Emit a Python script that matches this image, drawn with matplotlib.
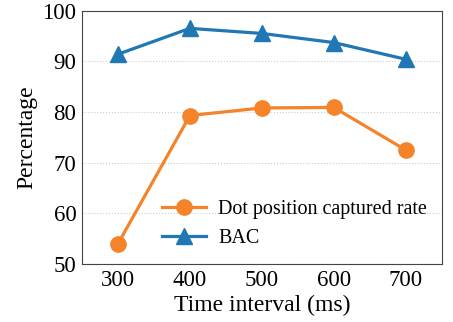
import matplotlib.pyplot as plt

plt.rcParams['font.family'] = ['Liberation Serif', 'DejaVu Serif']

intervals = [300, 400, 500, 600, 700]
dot_rate = [54.0, 79.3, 80.8, 80.9, 72.5]
bac = [91.4, 96.5, 95.5, 93.7, 90.4]

fig, ax = plt.subplots(figsize=(4.53, 3.22), dpi=100)
fig.subplots_adjust(left=0.181, right=0.975, top=0.967, bottom=0.18)

ax.plot(intervals, dot_rate, color='#f5832a', marker='o', markersize=11, linewidth=2.3, label='Dot position captured rate')
ax.plot(intervals, bac, color='#1f77b4', marker='^', markersize=11, linewidth=2.3, label='BAC')

ax.set_xlim(250, 750)
ax.set_ylim(50, 100)
ax.set_xticks(intervals)
ax.set_yticks([50, 60, 70, 80, 90, 100])
ax.tick_params(labelsize=16.5, length=0, pad=4)
ax.yaxis.grid(True, linestyle=':', color='#cccccc', linewidth=0.8)
ax.set_axisbelow(True)
for s in ax.spines.values():
    s.set_color('#444444')

ax.set_xlabel('Time interval (ms)', fontsize=17, labelpad=3)
ax.set_ylabel('Percentage', fontsize=17, labelpad=4)
ax.legend(loc='lower right', frameon=False, fontsize=14.5, handlelength=2.2,
          handletextpad=0.6, labelspacing=0.5, bbox_to_anchor=(1.01, -0.01))

fig.savefig('out.png', dpi=100)
